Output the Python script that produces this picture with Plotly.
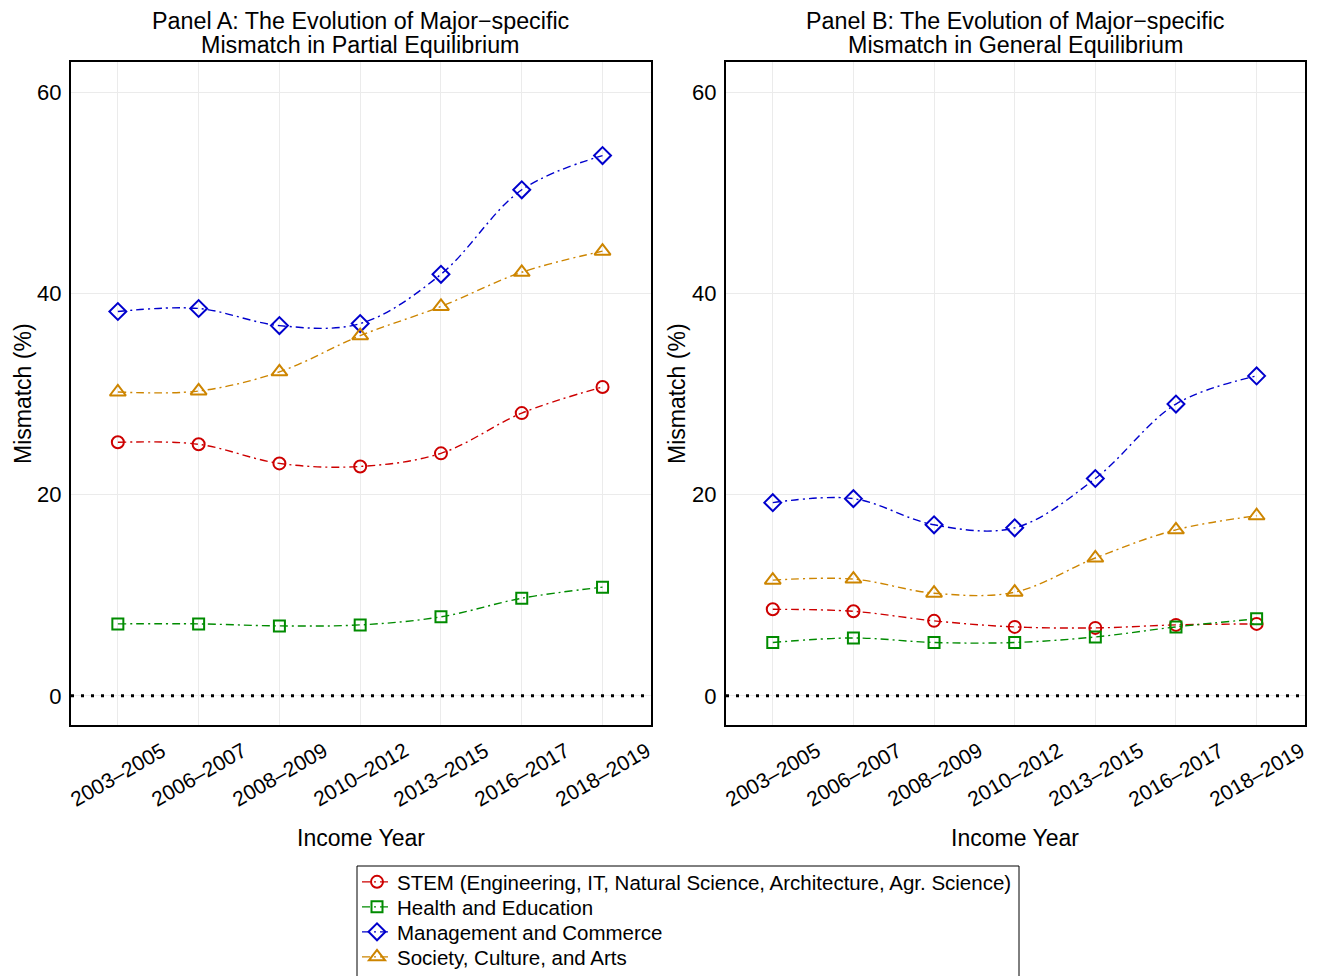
import plotly.graph_objects as go

years = ["2003–2005", "2006–2007", "2008–2009", "2010–2012", "2013–2015", "2016–2017", "2018–2019"]
series_names = ["STEM (Engineering, IT, Natural Science, Architecture, Agr. Science)",
                "Health and Education", "Management and Commerce", "Society, Culture, and Arts"]

# Panel A (partial equilibrium)
a_stem = [25.2, 25.0, 23.1, 22.8, 24.1, 28.1, 30.7]
a_health = [7.15, 7.15, 6.95, 7.05, 7.85, 9.7, 10.8]
a_mgmt = [38.2, 38.5, 36.8, 37.0, 41.9, 50.3, 53.7]
a_soc = [30.2, 30.3, 32.2, 35.8, 38.7, 42.1, 44.2]

# Panel B (general equilibrium)
b_stem = [8.6, 8.4, 7.45, 6.85, 6.75, 7.05, 7.15]
b_health = [5.3, 5.75, 5.3, 5.3, 5.85, 6.85, 7.65]
b_mgmt = [19.2, 19.6, 17.0, 16.7, 21.6, 29.0, 31.8]
b_soc = [11.5, 11.6, 10.2, 10.3, 13.7, 16.5, 17.9]

colors = ["#CD0000", "#008B00", "#0000CD", "#CD8500"]
symbols = ["circle-open", "square-open", "diamond-open", "triangle-up-open"]
msizes = [12, 11, 13, 14]
legend_ids = ["legend", "legend2", "legend3", "legend4"]
legend_rows = [882, 907, 932, 957]

FONT = "Liberation Sans, Arial, sans-serif"
OFF = 8  # page body margin
W, H = 1317 - OFF, 1010


def PX(s):
    return (s - OFF) / W


def PY(s):
    return 1 - (s - OFF) / H


fig = go.Figure()

panels = [("x", "y", [a_stem, a_health, a_mgmt, a_soc], True),
          ("x2", "y2", [b_stem, b_health, b_mgmt, b_soc], False)]
for xa, ya, data, show in panels:
    for i, vals in enumerate(data):
        fig.add_trace(go.Scatter(
            x=years, y=vals, xaxis=xa, yaxis=ya, mode="lines+markers",
            name=series_names[i], showlegend=show, legend=legend_ids[i],
            line=dict(color=colors[i], width=1.4, dash="8px,4px,2px,4px", shape="spline", smoothing=1.0),
            marker=dict(symbol=symbols[i], size=msizes[i], color=colors[i],
                        line=dict(width=2, color=colors[i])),
        ))

ydom = [PY(725), PY(62)]
axis_common = dict(showline=True, mirror=True, linecolor="black", linewidth=2,
                   gridcolor="#EBEBEB", gridwidth=1, zeroline=False, automargin=False)
xcommon = dict(range=[-0.58, 6.6], showticklabels=False, ticks="", **axis_common)
ycommon = dict(domain=ydom, range=[-2.9, 63], tickvals=[0, 20, 40, 60], ticks="",
               ticklabelstandoff=3, tickfont=dict(size=22, color="black", family=FONT), **axis_common)
fig.update_layout(
    width=W, height=H, margin=dict(l=0, r=0, t=0, b=0),
    plot_bgcolor="white", paper_bgcolor="white",
    font=dict(family=FONT, color="black"),
    xaxis=dict(domain=[PX(71), PX(651)], anchor="y", **xcommon),
    xaxis2=dict(domain=[PX(726), PX(1305)], anchor="y2", **xcommon),
    yaxis=dict(anchor="x", **ycommon),
    yaxis2=dict(anchor="x2", **ycommon),
)
# one single-entry legend per series so rows sit at the reference spacing
for lid, row in zip(legend_ids, legend_rows):
    fig.layout[lid] = dict(x=PX(357), y=PY(row), xanchor="left", yanchor="middle",
                           borderwidth=0, bgcolor="rgba(0,0,0,0)",
                           font=dict(size=20.5, family=FONT), itemwidth=30)

# legend frame
fig.add_shape(type="rect", xref="paper", yref="paper", x0=PX(357), x1=PX(1019),
              y0=PY(1000), y1=PY(866), line=dict(color="black", width=1), layer="below")

for xr, yr in [("x domain", "y"), ("x2 domain", "y2")]:
    fig.add_shape(type="line", xref=xr, yref=yr, x0=0, x1=1, y0=0, y1=0,
                  line=dict(color="black", width=3, dash="3px,7px"))

# rotated category labels centred on each category
for xr in ["x", "x2"]:
    for yv in years:
        fig.add_annotation(text=yv, x=yv, xref=xr, y=PY(774), yref="paper",
                           xanchor="center", yanchor="middle", textangle=-30, showarrow=False,
                           font=dict(size=21, family=FONT, color="black"))

# axis titles
for xc in [361, 1015]:
    fig.add_annotation(text="Income Year", x=PX(xc), y=PY(838), xref="paper", yref="paper",
                       xanchor="center", yanchor="middle", showarrow=False,
                       font=dict(size=23, family=FONT, color="black"))
for xc in [23, 677]:
    fig.add_annotation(text="Mismatch (%)", x=PX(xc), y=PY(394), xref="paper", yref="paper",
                       xanchor="center", yanchor="middle", textangle=-90, showarrow=False,
                       font=dict(size=23, family=FONT, color="black"))

titles = [(361, "Panel A: The Evolution of Major\u2212specific", "Mismatch in Partial Equilibrium"),
          (1015, "Panel B: The Evolution of Major\u2212specific", "Mismatch in General Equilibrium")]
for xc, t1, t2 in titles:
    for t, yc in [(t1, 21), (t2, 45)]:
        fig.add_annotation(text=t, x=PX(xc), y=PY(yc), xref="paper", yref="paper",
                           xanchor="center", yanchor="middle", showarrow=False, borderpad=0,
                           font=dict(size=23.3, family=FONT, color="black"))

fig.write_html("out.html")
